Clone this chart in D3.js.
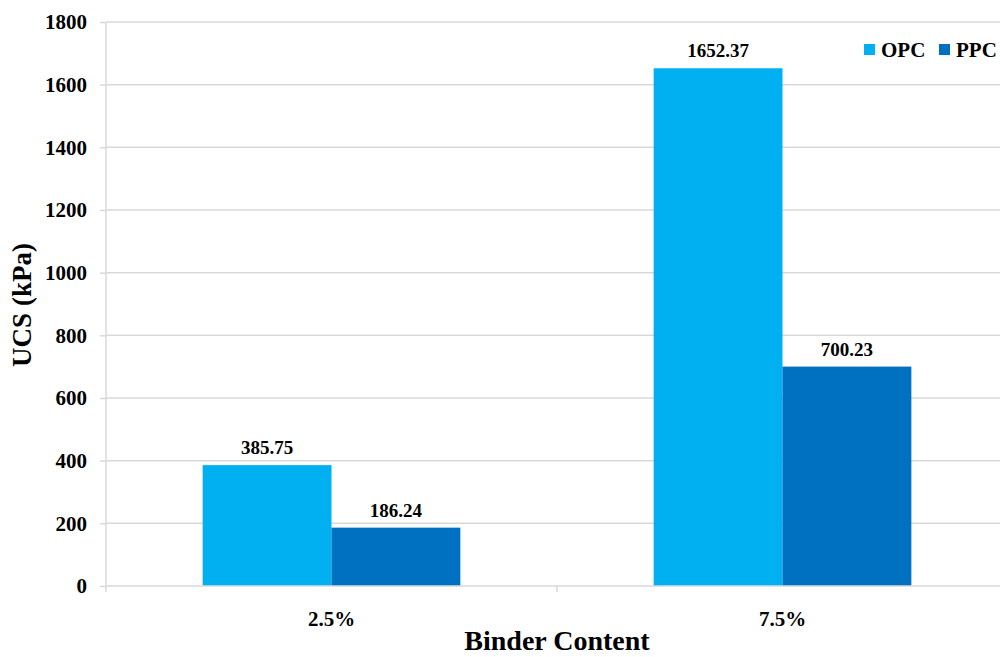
<!DOCTYPE html>
<html>
<head>
<meta charset="utf-8">
<script src="https://cdn.jsdelivr.net/npm/d3@7"></script>
<style>
  html, body { margin: 0; padding: 0; background: #fff; }
  svg { display: block; font-family: "Liberation Serif", "Times New Roman", serif; font-weight: bold; }
</style>
</head>
<body>
<svg id="chart" width="1000" height="657"></svg>
<script>
// Unconfined compressive strength by binder content
const categories = ["2.5%", "7.5%"];
const seriesNames = ["OPC", "PPC"];
const opcValues = [385.75, 1652.37];
const ppcValues = [186.24, 700.23];
const yTicks = [0, 200, 400, 600, 800, 1000, 1200, 1400, 1600, 1800];
const colors = ["#00B0F0", "#0070C0"];

const svg = d3.select("#chart");
const plot = { left: 106, right: 1008, top: 22, bottom: 586 };

const x = d3.scaleBand().domain(categories).range([plot.left, plot.right]).paddingInner(0).paddingOuter(0);
const inner = d3.scaleBand().domain(seriesNames).range([0, x.bandwidth()]).paddingInner(0).paddingOuter(0.75);
const y = d3.scaleLinear().domain([0, 1800]).range([plot.bottom, plot.top]);

// horizontal gridlines
svg.append("g").selectAll("line").data(yTicks.filter(d => d > 0)).join("line")
  .attr("x1", plot.left).attr("x2", 1000)
  .attr("y1", d => y(d)).attr("y2", d => y(d))
  .attr("stroke", "#d9d9d9").attr("stroke-width", 1.5);

// y axis
const yAxis = svg.append("g").attr("transform", `translate(${plot.left},0)`)
  .call(d3.axisLeft(y).tickValues(yTicks).tickSize(6).tickPadding(13).tickFormat(d3.format("d")));
yAxis.select(".domain").attr("stroke", "#d9d9d9").attr("stroke-width", 1.5).attr("d", `M0,${plot.top}V${plot.bottom}`);
yAxis.selectAll(".tick line").attr("stroke", "#d9d9d9").attr("stroke-width", 1.5);
yAxis.selectAll(".tick text").attr("fill", "#000").style("font-size", "21px")
  .style("font-family", "Liberation Serif").style("font-weight", "bold");

const rows = categories.map((c, i) => ({ cat: c, values: [opcValues[i], ppcValues[i]] }));

// bars
const groups = svg.append("g").selectAll("g").data(rows).join("g")
  .attr("transform", d => `translate(${x(d.cat)},0)`);
groups.selectAll("rect").data(d => d.values.map((v, j) => ({ key: seriesNames[j], v, j }))).join("rect")
  .attr("x", d => inner(d.key)).attr("width", inner.bandwidth())
  .attr("y", d => y(d.v)).attr("height", d => y(0) - y(d.v))
  .attr("fill", d => colors[d.j]);

// value labels
groups.selectAll("text").data(d => d.values.map((v, j) => ({ key: seriesNames[j], v, j }))).join("text")
  .attr("x", d => inner(d.key) + inner.bandwidth() / 2)
  .attr("y", d => y(d.v) - 11)
  .attr("text-anchor", "middle").style("font-size", "19px")
  .text(d => d3.format(".2f")(d.v));

// x axis
const xAxis = svg.append("g").attr("transform", `translate(0,${plot.bottom})`)
  .call(d3.axisBottom(x).tickSize(0).tickPadding(25));
xAxis.select(".domain").attr("stroke", "#d9d9d9").attr("stroke-width", 1.5).attr("d", `M${plot.left},0H1000`);
xAxis.selectAll(".tick text").attr("fill", "#000").style("font-size", "21px")
  .style("font-family", "Liberation Serif").style("font-weight", "bold");
// category separators
svg.append("g").selectAll("line").data([plot.left, x(categories[1])]).join("line")
  .attr("x1", d => d).attr("x2", d => d).attr("y1", plot.bottom).attr("y2", plot.bottom + 6)
  .attr("stroke", "#d9d9d9").attr("stroke-width", 1.5);

// axis titles
svg.append("text").attr("x", (plot.left + plot.right) / 2).attr("y", 650)
  .attr("text-anchor", "middle").style("font-size", "28px").text("Binder Content");
svg.append("text").attr("transform", "translate(31,305) rotate(-90)")
  .attr("text-anchor", "middle").style("font-size", "27px").text("UCS (kPa)");

// legend
const legend = svg.append("g");
const legendItems = [{ name: "OPC", x: 864 }, { name: "PPC", x: 939 }];
legendItems.forEach((it, i) => {
  legend.append("rect").attr("x", it.x).attr("y", 44).attr("width", 11).attr("height", 11).attr("fill", colors[i]);
  legend.append("text").attr("x", it.x + 17).attr("y", 57).style("font-size", "21px").text(it.name);
});
</script>
</body>
</html>
